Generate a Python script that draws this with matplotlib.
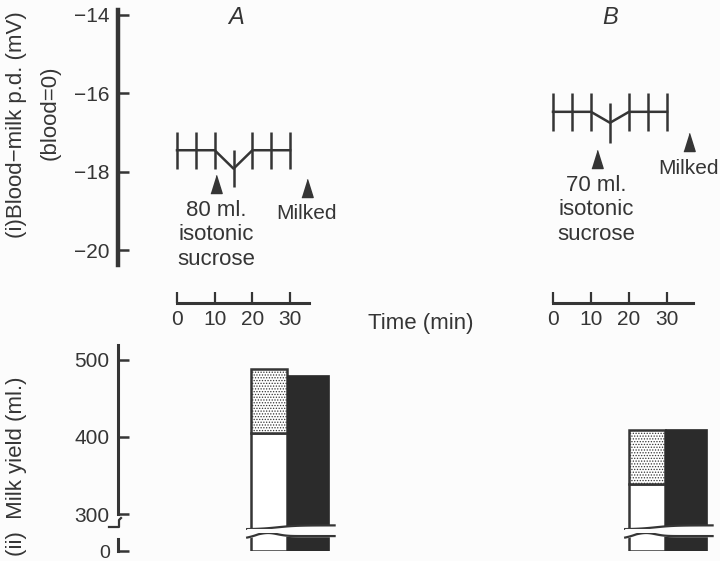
import numpy as np
import matplotlib
matplotlib.use("Agg")
import matplotlib.pyplot as plt
from matplotlib.lines import Line2D

# ---- data ----
times = [0, 5, 10, 15, 20, 25, 30]
pd_A = [-17.45, -17.45, -17.45, -17.92, -17.45, -17.45, -17.45]
err_A = [0.47, 0.47, 0.47, 0.47, 0.47, 0.47, 0.47]
pd_B = [-16.47, -16.47, -16.47, -16.75, -16.47, -16.47, -16.47]
err_B = [0.48, 0.48, 0.48, 0.51, 0.48, 0.48, 0.48]

# event markers (time in min, level in mV where the arrow sits)
sucrose_A = (10.3, -18.31)
sucrose_B = (11.5, -17.67)
milked_A = (34.5, -18.41)
milked_B = (35.8, -17.25)

groups = ['A', 'B']
white_yield = [405, 339]      # ml
stipple_top = [488, 409]      # ml
black_yield = [480, 410]      # ml

yticks_pd = [-14, -16, -18, -20]
yticks_milk = [300, 400, 500]
time_ticks = [0, 10, 20, 30]

# ---- layout ----
W, H = 720, 561
ink = '#353535'
bg = '#fcfcfc'
plt.rcParams['font.family'] = ['Liberation Sans', 'DejaVu Sans']
plt.rcParams['text.color'] = ink
plt.rcParams['axes.edgecolor'] = ink
plt.rcParams['xtick.color'] = ink
plt.rcParams['ytick.color'] = ink
plt.rcParams['hatch.linewidth'] = 0.6

fig = plt.figure(figsize=(W / 100, H / 100), dpi=100, facecolor=bg)


def px(x0, y0, x1, y1):
    return [x0 / W, 1 - y1 / H, (x1 - x0) / W, (y1 - y0) / H]


def bare(ax):
    ax.set_facecolor('none')
    for s in ax.spines.values():
        s.set_visible(False)
    ax.set_xticks([])
    ax.set_yticks([])


# mV scale: -14 at y=15px, 39.2 px per mV
mv_top = -14 + 5 / 39.2
mv_bot = -14 - 250 / 39.2

# ---- top panel A (with the p.d. axis) ----
axA = fig.add_axes(px(118, 10, 360, 265))
bare(axA)
axA.set_xlim((118 - 177) / 3.77, (360 - 177) / 3.77)
axA.set_ylim(mv_bot, mv_top)
axA.spines['left'].set_visible(True)
axA.spines['left'].set_linewidth(3.2)
axA.set_yticks(yticks_pd)
axA.set_yticklabels([f'\u2212{abs(v)}' for v in yticks_pd], fontsize=15)
axA.tick_params(axis='y', direction='in', length=8, width=1.8, pad=6)

axB = fig.add_axes(px(380, 10, 720, 265))
bare(axB)
axB.set_xlim((380 - 553) / 3.8, (720 - 553) / 3.8)
axB.set_ylim(mv_bot, mv_top)

tri = [(-1, -1.6), (1, -1.6), (0, 1.6)]
for ax, vals, errs, inj, milk, vol, lab, lab_x in [
        (axA, pd_A, err_A, sucrose_A, milked_A, '80', 'A', 15.7),
        (axB, pd_B, err_B, sucrose_B, milked_B, '70', 'B', 15.0)]:
    ax.errorbar(times, vals, yerr=errs, color=ink, lw=1.8, elinewidth=1.8,
                capsize=0)
    ax.plot([inj[0]], [inj[1]], marker=tri, ms=13, color=ink, ls='none')
    ax.plot([milk[0]], [milk[1]], marker=tri, ms=13, color=ink, ls='none')
    ax.text(inj[0], inj[1] - 0.4, f'{vol} ml.\nisotonic\nsucrose',
            ha='center', va='top', fontsize=16, linespacing=1.22)
    ax.text(milk[0] - 0.2, milk[1] - 0.42, 'Milked', ha='center', va='top',
            fontsize=15)
    ax.text(lab_x, -14.07, lab, ha='center', va='center', fontsize=17,
            style='italic')

fig.text(17 / W, 1 - 125 / H, '(i)Blood\u2212milk p.d. (mV)', rotation=90,
         ha='center', va='center', fontsize=16)
fig.text(50 / W, 1 - 113 / H, '(blood=0)', rotation=90,
         ha='center', va='center', fontsize=16)

# ---- time axes ----
for x0, x1, scale in [(177, 309, 3.77), (553, 693, 3.8)]:
    axt = fig.add_axes(px(x0, 280, x1, 303))
    bare(axt)
    axt.spines['bottom'].set_visible(True)
    axt.spines['bottom'].set_linewidth(2.2)
    axt.set_xlim(0, (x1 - x0) / scale)
    axt.set_xticks(time_ticks)
    axt.set_xticklabels([str(t) for t in time_ticks], fontsize=15)
    axt.tick_params(axis='x', direction='in', length=8, width=1.6, pad=5)
fig.text(421 / W, 1 - 323 / H, 'Time (min)', ha='center', va='center',
         fontsize=16)

# ---- milk yield bars ----
# scale: 500 at y=360px, 0.77 px per ml
ml_top = 500 + 15 / 0.77
ml_bot = 400 - 93 / 0.77
lo_top = 18 / 0.77
bar_w = 38.0
for i, (x_lo, x_hi, edge) in enumerate([(118, 360, 251), (500, 720, 629)]):
    up = fig.add_axes(px(x_lo, 345, x_hi, 530))
    lo = fig.add_axes(px(x_lo, 533, x_hi, 551))
    for ax in (up, lo):
        bare(ax)
        ax.set_xlim((x_lo - edge) / bar_w, (x_hi - edge) / bar_w)
    up.set_ylim(ml_bot, ml_top)
    lo.set_ylim(0, lo_top)
    for ax in (up, lo):
        ax.bar(0, white_yield[i], width=0.95, align='edge', color='white',
               edgecolor=ink, lw=1.8)
        ax.bar(0, stipple_top[i] - white_yield[i], bottom=white_yield[i],
               width=0.95, align='edge', color='white', edgecolor=ink,
               lw=1.8, hatch='......')
        ax.bar(0.95, black_yield[i], width=1.1, align='edge', color='#2b2b2b',
               edgecolor='#2b2b2b', lw=0.5)
    # wavy break
    xs = np.linspace(-0.1, 2.2, 100)
    wave_u = ml_bot + 3.5 + 2.5 * np.tanh((xs - 0.7) * 2)
    up.fill_between(xs, ml_bot - 5, wave_u, color=bg, zorder=5,
                    clip_on=False)
    up.plot(xs, wave_u, color=ink, lw=1.6, zorder=6)
    wave_l = (lo_top - 4 + 4 * np.exp(-((xs - 0.45) / 0.35) ** 2)
              - 7.5 * np.clip(0.2 - xs, 0, None))
    lo.fill_between(xs, wave_l, lo_top + 5, color=bg, zorder=5,
                    clip_on=False)
    lo.plot(xs, wave_l, color=ink, lw=1.6, zorder=6)
    if i == 0:
        up.spines['left'].set_visible(True)
        up.spines['left'].set_linewidth(2.2)
        up.spines['left'].set_bounds(300, ml_top)
        up.set_yticks(yticks_milk)
        up.set_yticklabels([str(v) for v in yticks_milk], fontsize=15)
        up.tick_params(axis='y', direction='in', length=8, width=1.8, pad=6)
        lo.spines['left'].set_visible(True)
        lo.spines['left'].set_linewidth(2.2)
        lo.spines['left'].set_bounds(0, 12 / 0.77)
        lo.set_yticks([0])
        lo.set_yticklabels(['0'], fontsize=14)
        lo.tick_params(axis='y', direction='in', length=8, width=1.8, pad=6)

# break mark on the milk-yield axis
fig.add_artist(Line2D(np.array([109, 119, 119, 121]) / W,
                      1 - np.array([527, 527, 520, 518]) / H,
                      color=ink, lw=1.6))

fig.text(17 / W, 1 - 466 / H, '(ii)  Milk yield (ml.)', rotation=90,
         ha='center', va='center', fontsize=16)

fig.savefig('out.png', dpi=100, facecolor=fig.get_facecolor())
